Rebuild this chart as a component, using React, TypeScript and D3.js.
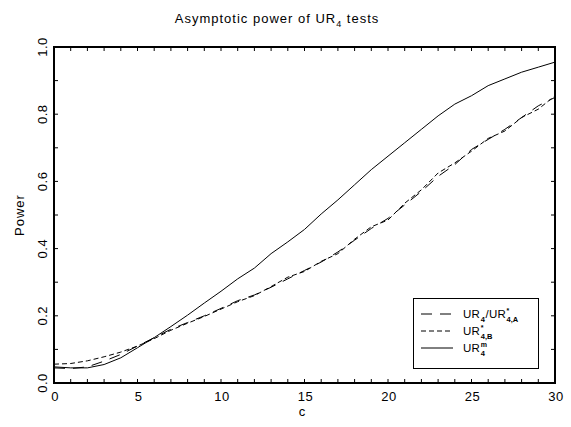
import * as d3 from "d3";
import React, { useEffect, useRef } from "react";

// values, c = 0..30
const cValues = d3.range(0, 31);
const urmPower = [0.048, 0.045, 0.045, 0.055, 0.075, 0.105, 0.135, 0.168, 0.202, 0.238, 0.273, 0.31, 0.342, 0.385, 0.42, 0.457, 0.503, 0.545, 0.59, 0.635, 0.675, 0.715, 0.755, 0.795, 0.83, 0.855, 0.885, 0.905, 0.925, 0.94, 0.955];
const urAPower = [0.045, 0.043, 0.048, 0.065, 0.085, 0.11, 0.135, 0.16, 0.18, 0.2, 0.222, 0.245, 0.262, 0.285, 0.31, 0.335, 0.36, 0.39, 0.425, 0.46, 0.49, 0.53, 0.57, 0.615, 0.65, 0.695, 0.725, 0.755, 0.79, 0.825, 0.85];
const urBPower = [0.056, 0.058, 0.066, 0.078, 0.092, 0.11, 0.132, 0.157, 0.178, 0.198, 0.22, 0.242, 0.26, 0.287, 0.315, 0.332, 0.362, 0.385, 0.428, 0.465, 0.485, 0.535, 0.575, 0.625, 0.655, 0.69, 0.728, 0.75, 0.79, 0.815, 0.855];
const xTickLabels = [0, 5, 10, 15, 20, 25, 30];
const yTickLabels = [0, 0.2, 0.4, 0.6, 0.8, 1.0];

// legend entries: [base text, superscript, subscript] pieces
const legendItems = [
  { dash: "11,8", parts: [["UR", "", "4"], ["/UR", "*", "4,A"]] },
  { dash: "5,3", parts: [["UR", "*", "4,B"]] },
  { dash: null, parts: [["UR", "m", "4"]] },
] as { dash: string | null; parts: [string, string, string][] }[];

const W = 571, H = 427;
const margin = { top: 47, right: 16, bottom: 44, left: 54 };
const FONT = "'Liberation Sans', Arial, sans-serif";

function drawChart(el: SVGSVGElement) {
  const svg = d3.select(el);
  svg.selectAll("*").remove();

  const x = d3.scaleLinear().domain([0, 30]).range([margin.left, W - margin.right]);
  const y = d3.scaleLinear().domain([0, 1]).range([H - margin.bottom, margin.top]);

  // title
  const title = svg.append("text")
    .attr("x", 277).attr("y", 23)
    .attr("text-anchor", "middle")
    .style("font-family", FONT).style("font-size", "13px")
    .style("letter-spacing", "1px");
  title.append("tspan").text("Asymptotic power of UR");
  title.append("tspan").attr("dy", 4).style("font-size", "9px").text("4");
  title.append("tspan").attr("dy", -4).text(" tests");

  // frame
  svg.append("rect")
    .attr("x", x(0)).attr("y", y(1))
    .attr("width", x(30) - x(0)).attr("height", y(0) - y(1))
    .attr("fill", "none").attr("stroke", "#000").attr("stroke-width", 2);

  // ticks, all pointing inward
  const xt = d3.range(0, 31);
  const yt = d3.range(0, 11).map(d => d / 10);
  const g = svg.append("g").attr("stroke", "#000").attr("stroke-width", 1);
  g.selectAll(".xb").data(xt).join("line")
    .attr("class", "xb")
    .attr("x1", d => x(d)).attr("x2", d => x(d))
    .attr("y1", y(0)).attr("y2", y(0) - 4);
  g.selectAll(".xt").data(xt).join("line")
    .attr("class", "xt")
    .attr("x1", d => x(d)).attr("x2", d => x(d))
    .attr("y1", y(1)).attr("y2", y(1) + 4);
  g.selectAll(".yl").data(yt).join("line")
    .attr("class", "yl")
    .attr("x1", x(0)).attr("x2", x(0) + 4)
    .attr("y1", d => y(d)).attr("y2", d => y(d));
  g.selectAll(".yr").data(yt).join("line")
    .attr("class", "yr")
    .attr("x1", x(30)).attr("x2", x(30) - 4)
    .attr("y1", d => y(d)).attr("y2", d => y(d));

  // tick labels
  svg.append("g").selectAll("text").data(xTickLabels).join("text")
    .attr("x", d => x(d) + 1).attr("y", y(0) + 18)
    .attr("text-anchor", "middle")
    .style("font-family", FONT).style("font-size", "13px")
    .style("letter-spacing", "0.5px")
    .text(d => String(d));
  svg.append("g").selectAll("text").data(yTickLabels).join("text")
    .attr("transform", d => `translate(${x(0) - 7},${y(d)}) rotate(-90)`)
    .attr("text-anchor", "middle")
    .style("font-family", FONT).style("font-size", "13px")
    .style("letter-spacing", "0.5px")
    .text(d => d.toFixed(1));

  // axis titles
  svg.append("text")
    .attr("x", 302).attr("y", 416)
    .attr("text-anchor", "middle")
    .style("font-family", FONT).style("font-size", "13px")
    .text("c");
  svg.append("text")
    .attr("transform", `translate(24,${(y(0) + y(1)) / 2}) rotate(-90)`)
    .attr("text-anchor", "middle")
    .style("font-family", FONT).style("font-size", "13px")
    .style("letter-spacing", "1px")
    .text("Power");

  const series = [
    { values: urAPower, dash: "11,8" },
    { values: urBPower, dash: "5,3" },
    { values: urmPower, dash: null as string | null },
  ];
  const line = d3.line<number>().x((_, i) => x(cValues[i])).y(d => y(d));
  svg.append("g").selectAll("path").data(series).join("path")
    .attr("d", d => line(d.values))
    .attr("fill", "none").attr("stroke", "#000").attr("stroke-width", 1)
    .attr("stroke-dasharray", d => d.dash);

  // legend
  const lg = svg.append("g");
  lg.append("rect")
    .attr("x", 413.5).attr("y", 298.5).attr("width", 125).attr("height", 70)
    .attr("fill", "#fff").attr("stroke", "#000").attr("stroke-width", 1);
  legendItems.forEach((item, k) => {
    const ry = 314 + k * 17;
    lg.append("line")
      .attr("x1", 421).attr("x2", 453).attr("y1", ry).attr("y2", ry)
      .attr("stroke", "#000").attr("stroke-width", 1)
      .attr("stroke-dasharray", item.dash);
    let cx = 463;
    item.parts.forEach(([base, sup, sub]) => {
      const tb = lg.append("text")
        .attr("x", cx).attr("y", ry + 4)
        .style("font-family", FONT).style("font-size", "11.5px")
        .style("letter-spacing", "0.3px")
        .text(base);
      cx += (tb.node() as SVGTextElement).getComputedTextLength() + 0.5;
      let w = 0;
      if (sup) {
        const ts = lg.append("text")
          .attr("x", cx).attr("y", ry - 1)
          .style("font-family", FONT).style("font-size", "7px")
          .style("font-weight", "bold")
          .text(sup);
        w = Math.max(w, (ts.node() as SVGTextElement).getComputedTextLength());
      }
      if (sub) {
        const tsub = lg.append("text")
          .attr("x", cx).attr("y", ry + 7.5)
          .style("font-family", FONT).style("font-size", "7.5px")
          .style("font-weight", "bold")
          .text(sub);
        w = Math.max(w, (tsub.node() as SVGTextElement).getComputedTextLength());
      }
      cx += w + 0.5;
    });
  });
}

export default function App() {
  const ref = useRef<SVGSVGElement>(null);
  useEffect(() => {
    if (ref.current) drawChart(ref.current);
  }, []);
  return (
    <svg ref={ref} width={W} height={H}
      style={{ position: "absolute", left: 0, top: 0, background: "#fff" }} />
  );
}
